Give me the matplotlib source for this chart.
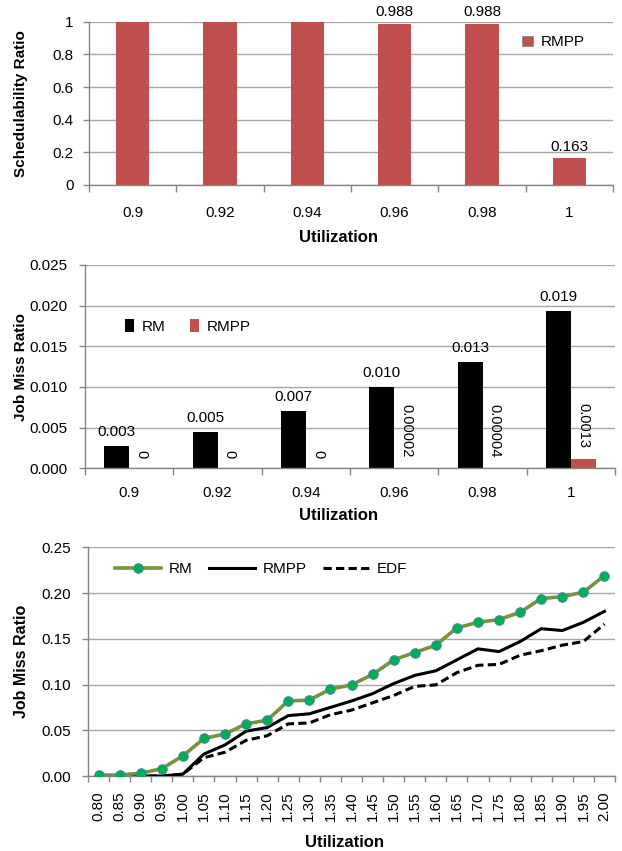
import numpy as np
import matplotlib as mpl
mpl.use("Agg")
import matplotlib.pyplot as plt
from matplotlib.patches import Patch

mpl.rcParams.update({
    "font.family": ["Liberation Sans", "DejaVu Sans"],
    "font.size": 11,
    "axes.spines.right": False,
    "axes.spines.top": False,
})

RED = "#C0504D"
GRID = "#A6A6A6"
AXIS = "#868686"

# --- data -------------------------------------------------------------
util_bars = ["0.9", "0.92", "0.94", "0.96", "0.98", "1"]
sched_rmpp = [1.0, 1.0, 1.0, 0.988, 0.988, 0.163]
sched_labels = ["", "", "", "0.988", "0.988", "0.163"]

miss_rm = [0.0027, 0.0045, 0.0071, 0.0100, 0.0131, 0.0193]
miss_rm_labels = ["0.003", "0.005", "0.007", "0.010", "0.013", "0.019"]
miss_rmpp = [0.0, 0.0, 0.0, 0.00002, 0.00004, 0.0012]
miss_rmpp_labels = ["0", "0", "0", "0.00002", "0.00004", "0.0013"]

util_lines = ["0.80", "0.85", "0.90", "0.95", "1.00", "1.05", "1.10", "1.15", "1.20",
              "1.25", "1.30", "1.35", "1.40", "1.45", "1.50", "1.55", "1.60", "1.65",
              "1.70", "1.75", "1.80", "1.85", "1.90", "1.95", "2.00"]
line_rm = [0.001, 0.001, 0.003, 0.008, 0.022, 0.041, 0.046, 0.057, 0.061, 0.082, 0.083,
           0.095, 0.0996, 0.111, 0.127, 0.135, 0.143, 0.162, 0.168, 0.171, 0.179, 0.194,
           0.196, 0.201, 0.219]
line_rmpp = [0.0, 0.0, 0.0, 0.0, 0.002, 0.024, 0.034, 0.049, 0.053, 0.066, 0.068, 0.075,
             0.082, 0.090, 0.101, 0.110, 0.115, 0.127, 0.139, 0.136, 0.147, 0.161, 0.159,
             0.168, 0.180]
line_edf = [0.0, 0.0, 0.0, 0.0, 0.002, 0.020, 0.026, 0.039, 0.044, 0.057, 0.058, 0.067,
            0.072, 0.080, 0.088, 0.098, 0.0996, 0.113, 0.121, 0.122, 0.132, 0.137, 0.143,
            0.147, 0.166]

W_PX, H_PX = 622.0, 851.0


def px_axes(fig, left, right, top, bottom):
    return fig.add_axes([left / W_PX, (H_PX - bottom) / H_PX,
                         (right - left) / W_PX, (bottom - top) / H_PX])


def style(ax, n, tick_len=5, ypad=8):
    ax.set_xlim(-0.5, n - 0.5)
    ax.grid(axis="y", color=GRID, lw=1.0)
    ax.set_axisbelow(True)
    for s in ("left", "bottom"):
        ax.spines[s].set_color(AXIS)
        ax.spines[s].set_linewidth(1.0)
    ax.set_xticks(np.arange(-0.5, n, 1.0))
    ax.set_xticklabels([])
    ax.tick_params(axis="x", which="major", length=tick_len, color=AXIS, width=1.0)
    ax.tick_params(axis="y", length=4.5, color=AXIS, width=1.0, pad=ypad)


def place_labels(ax, box, xlab_px, ylab_right_px):
    # box = (left, right, top, bottom) in pixels
    left, right, top, bottom = box
    ax.set_xlabel("Utilization", fontsize=12, fontweight="bold")
    ax.xaxis.set_label_coords((xlab_px[0] - left) / (right - left),
                              (bottom - xlab_px[1]) / (bottom - top))
    ax.yaxis.set_label_coords((ylab_right_px - left) / (right - left), 0.5)


fig = plt.figure(figsize=(6.22, 8.51), dpi=100)

# --- top: schedulability ratio ----------------------------------------
box1 = (89, 613, 21.7, 185)
ax1 = px_axes(fig, *box1)
x = np.arange(len(util_bars))
ax1.bar(x, sched_rmpp, width=0.38, color=RED, label="RMPP", zorder=2)
for xi, v, t in zip(x, sched_rmpp, sched_labels):
    if t:
        ax1.annotate(t, (xi, v), xytext=(0, 3), textcoords="offset points",
                     ha="center", va="bottom", fontsize=11, clip_on=False)
style(ax1, len(util_bars), ypad=6.5)
ax1.set_ylim(0, 1)
ax1.set_yticks([0, 0.2, 0.4, 0.6, 0.8, 1.0])
ax1.set_yticklabels(["0", "0.2", "0.4", "0.6", "0.8", "1"])
ax1.set_xticks(x, minor=True)
ax1.set_xticklabels(util_bars, minor=True)
ax1.tick_params(axis="x", which="minor", length=0, pad=15)
ax1.set_ylabel("Schedulability Ratio", fontsize=11, fontweight="bold")
place_labels(ax1, box1, (338, 230), 28)
ax1.legend(handles=[Patch(facecolor=RED, edgecolor="#8C8C8C", lw=0.6)], labels=["RMPP"],
           loc="upper left", bbox_to_anchor=(0.80, 1.0), frameon=False,
           handlelength=0.7, handleheight=0.7, handletextpad=0.5, fontsize=11)

# --- middle: job miss ratio bars ---------------------------------------
box2 = (85, 615, 265, 468.3)
ax2 = px_axes(fig, *box2)
w = 0.28
ax2.bar(x - w / 2, miss_rm, width=w, color="black", label="RM", zorder=2)
ax2.bar(x + w / 2, miss_rmpp, width=w, color=RED, label="RMPP", zorder=2)
for xi, v, t in zip(x, miss_rm, miss_rm_labels):
    ax2.annotate(t, (xi - w / 2, v), xytext=(0, 5), textcoords="offset points",
                 ha="center", va="bottom", fontsize=11)
for xi, v, t in zip(x, miss_rmpp, miss_rmpp_labels):
    ax2.annotate(t, (xi + w / 2, v), xytext=(0, 7.5), textcoords="offset points",
                 ha="center", va="bottom", rotation=270, fontsize=10.5)
style(ax2, len(util_bars))
ax2.set_ylim(0, 0.025)
ax2.set_yticks(np.arange(0, 0.0251, 0.005))
ax2.set_yticklabels([f"{v:.3f}" for v in np.arange(0, 0.0251, 0.005)])
ax2.set_xticks(x, minor=True)
ax2.set_xticklabels(util_bars, minor=True)
ax2.tick_params(axis="x", which="minor", length=0, pad=13)
ax2.set_ylabel("Job Miss Ratio", fontsize=11, fontweight="bold")
place_labels(ax2, box2, (339, 508), 28)
ax2.legend(loc="upper left", bbox_to_anchor=(0.05, 0.80), ncol=2, frameon=False,
           handlelength=0.6, handleheight=0.9, handletextpad=0.5, columnspacing=1.6,
           fontsize=11)

# --- bottom: job miss ratio lines --------------------------------------
box3 = (88, 615, 547.3, 776)
ax3 = px_axes(fig, *box3)
xl = np.arange(len(util_lines))
ax3.plot(xl, line_rmpp, color="black", lw=2.2, label="RMPP", zorder=3)
ax3.plot(xl, line_edf, color="black", lw=2.2, ls=(0, (2.7, 1.4)), label="EDF", zorder=3)
ax3.plot(xl, line_rm, color="#77933C", lw=2.6, marker="o", ms=7,
         markerfacecolor="#00B050", markeredgecolor="#4F81BD", markeredgewidth=0.6,
         label="RM", zorder=4)
style(ax3, len(util_lines), tick_len=4)
ax3.set_ylim(0, 0.25)
ax3.set_yticks(np.arange(0, 0.251, 0.05))
ax3.set_yticklabels([f"{v:.2f}" for v in np.arange(0, 0.251, 0.05)])
ax3.set_xticks(xl, minor=True)
ax3.set_xticklabels(util_lines, minor=True, rotation=90)
ax3.tick_params(axis="x", which="minor", length=0, pad=11)
ax3.set_ylabel("Job Miss Ratio", fontsize=11.5, fontweight="bold")
place_labels(ax3, box3, (345, 835), 29)
h, l = ax3.get_legend_handles_labels()
order = [2, 0, 1]
ax3.legend([h[i] for i in order], [l[i] for i in order], loc="upper left",
           bbox_to_anchor=(0.025, 0.995), ncol=3, frameon=False, handlelength=3.0,
           handletextpad=0.5, columnspacing=1.1, fontsize=11)

fig.savefig("out.png", dpi=100, facecolor="white")
